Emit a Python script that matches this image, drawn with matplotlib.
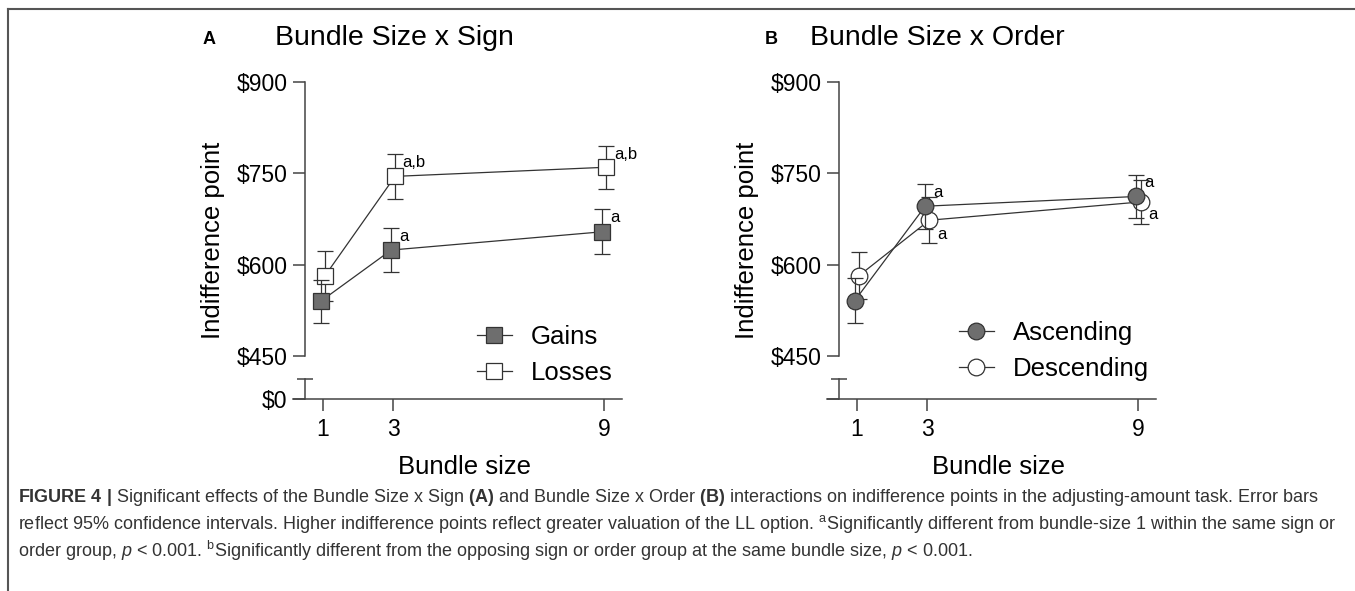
import matplotlib
matplotlib.use("Agg")
import matplotlib.pyplot as plt
from matplotlib.lines import Line2D

plt.rcParams['font.family'] = ['Liberation Sans', 'DejaVu Sans']
plt.rcParams['mathtext.fontset'] = 'custom'
plt.rcParams['mathtext.rm'] = 'Liberation Sans'
plt.rcParams['mathtext.it'] = 'Liberation Sans:italic'
plt.rcParams['mathtext.bf'] = 'Liberation Sans:bold'

# --- datos ---
bundle_sizes = [1, 3, 9]
y_ticks = [450, 600, 750, 900]
y_tick_labels = ['\\$450', '\\$600', '\\$750', '\\$900']

gains_mean = [540, 624, 654]
gains_ci = [35, 36, 37]
gains_sig = ['', 'a', 'a']

losses_mean = [581, 745, 760]
losses_ci = [41, 37, 35]
losses_sig = ['', 'a,b', 'a,b']

asc_mean = [541, 696, 712]
asc_ci = [37, 37, 36]
asc_sig = ['', 'a', 'a']

desc_mean = [582, 673, 703]
desc_ci = [38, 38, 36]
desc_sig = ['', 'a', 'a']

caption_lines = [
    r"$\mathbf{FIGURE\ 4\ |}$ Significant effects of the Bundle Size x Sign $\mathbf{(A)}$ and Bundle Size x Order "
    r"$\mathbf{(B)}$ interactions on indifference points in the adjusting-amount task. Error bars",
    r"reflect 95% confidence intervals. Higher indifference points reflect greater valuation of the LL option. "
    r"$^{\mathrm{a}}$Significantly different from bundle-size 1 within the same sign or",
    r"order group, $p$ < 0.001. $^{\mathrm{b}}$Significantly different from the opposing sign or order group "
    r"at the same bundle size, $p$ < 0.001.",
]

W, H = 1355, 591
INK = '#333333'
AXC = '#444444'
GRAY = '#6e6e6e'

fig = plt.figure(figsize=(W / 100, H / 100), dpi=100)
fig.patch.set_facecolor('white')


def px_axes(left, top, right, bottom):
    return fig.add_axes([left / W, 1 - bottom / H, (right - left) / W, (bottom - top) / H])


def style_axis(ax):
    ax.set_xlim(0.15, 9.5)
    ax.spines['top'].set_visible(False)
    ax.spines['right'].set_visible(False)
    ax.spines['left'].set_position(('axes', 12 / 329))
    for s in ('left', 'bottom'):
        ax.spines[s].set_color(AXC)
        ax.spines[s].set_linewidth(1.1)
    ax.tick_params(axis='both', which='major', direction='out', length=8.5, width=1.1,
                   color=AXC, labelsize=16.5, pad=4)
    ax.tick_params(axis='y', which='minor', direction='inout', length=12, width=1.1, color=AXC)
    ax.set_facecolor('none')


def draw_series(ax, means, ci, sig, marker, face, dodge, label, ms, below=False):
    xs = [b + dodge for b in bundle_sizes]
    ax.errorbar(xs, means, yerr=ci, fmt='none', ecolor=INK, elinewidth=0.9,
                capsize=6, capthick=0.9)
    line, = ax.plot(xs, means, color=INK, lw=0.9, marker=marker, ms=ms,
                    mfc=face, mec=INK, mew=0.9, label=label)
    for x, m, c, s in zip(xs, means, ci, sig):
        if not s:
            continue
        if below:
            ax.annotate(s, xy=(x, m - c), xytext=(5.5, 6.5), textcoords='offset points',
                        ha='left', va='center', fontsize=12)
        else:
            ax.annotate(s, xy=(x, m + c), xytext=(5.5, -6), textcoords='offset points',
                        ha='left', va='center', fontsize=12)
    return line


def draw_panel(x0, letter, letter_x, title, title_x, show_zero, series, legend_xy):
    ax_top = px_axes(x0, 82, x0 + 329, 356)
    ax_bot = px_axes(x0, 379, x0 + 329, 399)
    style_axis(ax_top)
    style_axis(ax_bot)

    ax_top.spines['bottom'].set_visible(False)
    ax_top.set_xticks([])
    ax_top.set_ylim(450, 900)
    ax_top.set_yticks(y_ticks)
    ax_top.set_yticklabels(y_tick_labels)
    ax_top.set_yticks([450], minor=True)

    ax_bot.set_ylim(0, 1)
    ax_bot.set_yticks([0])
    ax_bot.set_yticklabels(['\\$0' if show_zero else ''])
    ax_bot.set_yticks([1], minor=True)
    ax_bot.set_xticks(bundle_sizes)
    ax_bot.set_xticklabels([str(b) for b in bundle_sizes])
    ax_bot.tick_params(axis='x', pad=5)

    handles = []
    for args in series:
        handles.append(draw_series(ax_top, *args))
    handles = handles[::-1]

    ax_top.legend(handles=handles, loc='center left',
                  bbox_to_anchor=(legend_xy[0] / W, 1 - legend_xy[1] / H),
                  bbox_transform=fig.transFigure, frameon=False, fontsize=18.5,
                  handlelength=1.35, handletextpad=0.75, labelspacing=0.45,
                  borderpad=0, borderaxespad=0)

    fig.text((x0 - 80) / W, 1 - 240 / H, 'Indifference point', rotation=90,
             ha='center', va='center', fontsize=18.5)
    fig.text((x0 + 171) / W, 1 - 467 / H, 'Bundle size', ha='center', va='center',
             fontsize=18.5)
    fig.text(letter_x / W, 1 - 40 / H, letter, ha='left', va='center',
             fontsize=13, fontweight='bold')
    fig.text(title_x / W, 1 - 38 / H, title, ha='left', va='center', fontsize=20.5)


# Panel A (orden de dibujo: la serie con relleno queda encima)
draw_panel(293, 'A', 203, 'Bundle Size x Sign', 275, True,
           [(losses_mean, losses_ci, losses_sig, 's', 'white', 0.05, 'Losses', 11.5),
            (gains_mean, gains_ci, gains_sig, 's', GRAY, -0.06, 'Gains', 11.5)],
           (477, 355))

# Panel B
draw_panel(827, 'B', 765, 'Bundle Size x Order', 810, False,
           [(desc_mean, desc_ci, desc_sig, 'o', 'white', 0.06, 'Descending', 12, True),
            (asc_mean, asc_ci, asc_sig, 'o', GRAY, -0.06, 'Ascending', 12)],
           (959, 351))

# marco superior e izquierdo
fig.add_artist(Line2D([8 / W, 1], [1 - 8.5 / H, 1 - 8.5 / H], color='#555555', lw=1.5))
fig.add_artist(Line2D([8 / W, 8 / W], [0, 1 - 8.5 / H], color='#555555', lw=1.5))

# leyenda de la figura
for i, line in enumerate(caption_lines):
    fig.text(18 / W, 1 - (497 + 27 * i) / H, line, ha='left', va='center',
             fontsize=13, color=INK)

fig.savefig('out.png', dpi=100, facecolor='white')
